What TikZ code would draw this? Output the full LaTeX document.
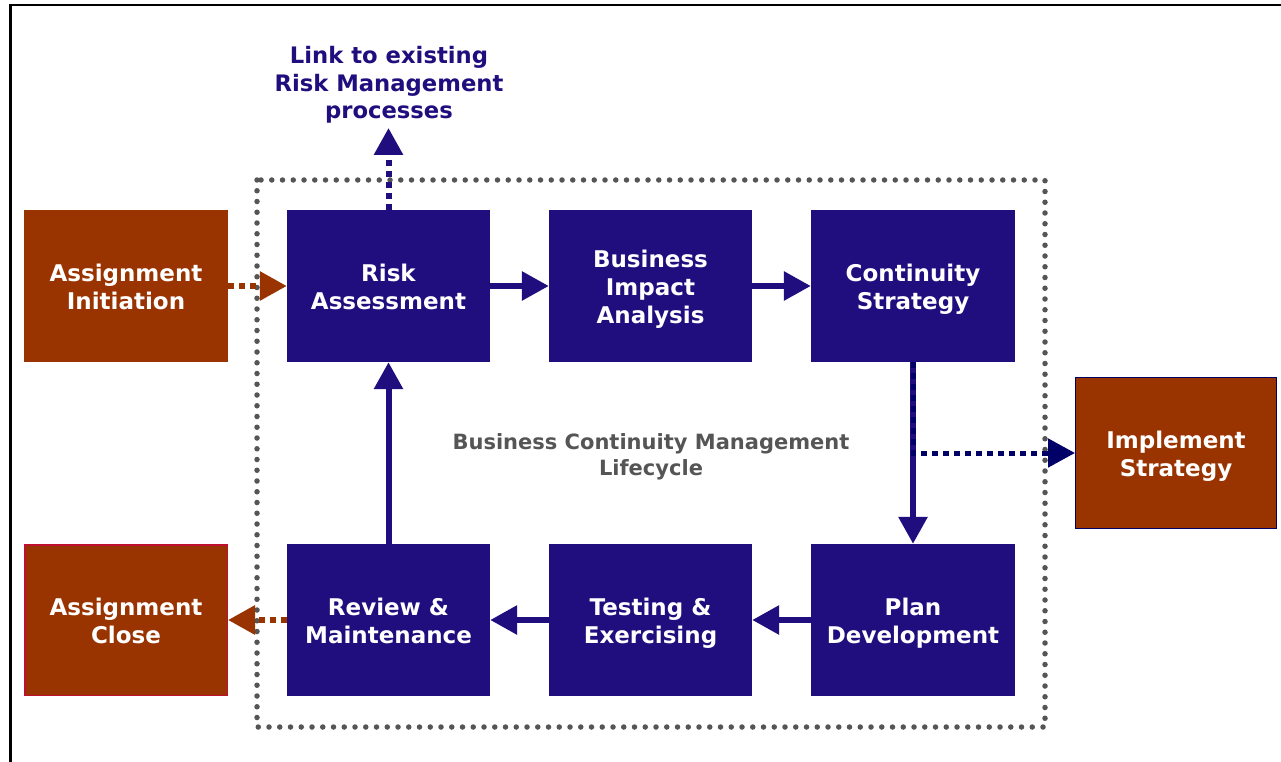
\documentclass[tikz,border=0pt]{standalone}
\usepackage{fontspec}
\setsansfont{DejaVu Sans}
\usetikzlibrary{arrows.meta}
\definecolor{bcmblue}{RGB}{32,14,126}
\definecolor{bcmbrown}{RGB}{153,51,0}
\definecolor{bcmnavy}{RGB}{0,0,102}
\definecolor{bcmgrey}{RGB}{85,85,85}
\definecolor{closeedge}{RGB}{190,16,46}
% fixed line extents so every box places its text the same way
\newcommand\bt{\rule{0pt}{25.5pt}}
\newcommand\bcmbotrule{\rule[-6pt]{0pt}{6pt}}
\newcommand\ct{\rule{0pt}{22.5pt}}
\newcommand\cycbotrule{\rule[-5pt]{0pt}{5pt}}
\begin{document}
\begin{tikzpicture}[x=1pt,y=-1pt,
  boxfont/.style={font=\sffamily\bfseries\fontsize{23}{28}\selectfont,
    execute at end node=\bcmbotrule},
  phase/.style={boxfont,fill=bcmblue,text=white,align=center,
    minimum width=203pt,minimum height=152pt,inner sep=0pt},
  outer/.style={boxfont,fill=bcmbrown,text=white,align=center,
    minimum width=204pt,minimum height=152pt,inner sep=0pt},
  flow/.style={draw=bcmblue,line width=6pt,
    -{Triangle[length=27pt,width=28pt]}},
  handoff/.style={draw=bcmbrown,line width=6pt,dash pattern=on 6pt off 5pt,
    -{Triangle[length=27pt,width=28pt,fill=bcmbrown]}},
  feed/.style={draw=bcmnavy,line width=5pt,dash pattern=on 6pt off 5pt,
    -{Triangle[length=27pt,width=28pt,fill=bcmnavy]}},
  linkflow/.style={draw=bcmblue,line width=6pt,dash pattern=on 6pt off 5pt,
    -{Triangle[length=27pt,width=28pt,fill=bcmblue]}}
]
\useasboundingbox (0,0) rectangle (1281,762);
\fill[white] (0,0) rectangle (1281,762);

% page frame (left and top edges)
\draw[black,line width=2.5pt] (10.3,762) -- (10.3,5) -- (1281,5);

% lifecycle boundary
\draw[bcmgrey,line width=5.5pt,line cap=round,dash pattern=on 0pt off 10.75pt]
  (257,180) rectangle (1045,727);

% lifecycle phases
\node[phase] (risk) at (388.5,286) {\bt Risk\\Assessment};
\node[phase] (bia)  at (650.5,286) {\bt Business\\Impact\\Analysis};
\node[phase,minimum width=204pt] (cs) at (913,286) {\bt Continuity\\Strategy};
\node[phase] (review) at (388.5,620) {\bt Review \&\\Maintenance};
\node[phase] (test)   at (650.5,620) {\bt Testing \&\\Exercising};
\node[phase,minimum width=204pt] (plan) at (913,620) {\bt Plan\\Development};

% assignment and implementation boxes
\node[outer] (init)  at (126,286) {\bt Assignment\\Initiation};
\node[outer,draw=closeedge,line width=1.5pt,minimum width=202.5pt,minimum height=150.5pt]
  (close) at (126,620) {\bt Assignment\\Close};
\node[outer,draw=bcmnavy,line width=1pt,minimum width=201pt,minimum height=151pt]
  (impl) at (1176,453) {\bt Implement\\Strategy};

% labels
\node[font=\sffamily\bfseries\fontsize{22.7}{27.5}\selectfont,text=bcmblue,align=center]
  (link) at (389,85) {Link to existing\\Risk Management\\processes};
\coordinate (linktip) at (388.5,128);
\node[font=\sffamily\bfseries\fontsize{21}{26}\selectfont,text=bcmgrey,align=center,
  execute at end node=\cycbotrule]
  (cycle) at (651,454) {\ct Business Continuity Management\\Lifecycle};

% main cycle
\draw[flow] (risk.east) -- (bia.west);
\draw[flow] (bia.east) -- (cs.west);
\draw[flow] (cs.south) -- (plan.north);
\draw[flow] (plan.west) -- (test.east);
\draw[flow] (test.west) -- (review.east);
\draw[flow] (review.north) -- (risk.south);

% hand-offs in and out of the lifecycle
\draw[handoff] (init.east) -- (risk.west);
\draw[handoff] (review.west) -- (close.east);
\draw[feed] (cs.south) |- (impl.west);
\draw[linkflow] (risk.north) -- (linktip);
\end{tikzpicture}
\end{document}
